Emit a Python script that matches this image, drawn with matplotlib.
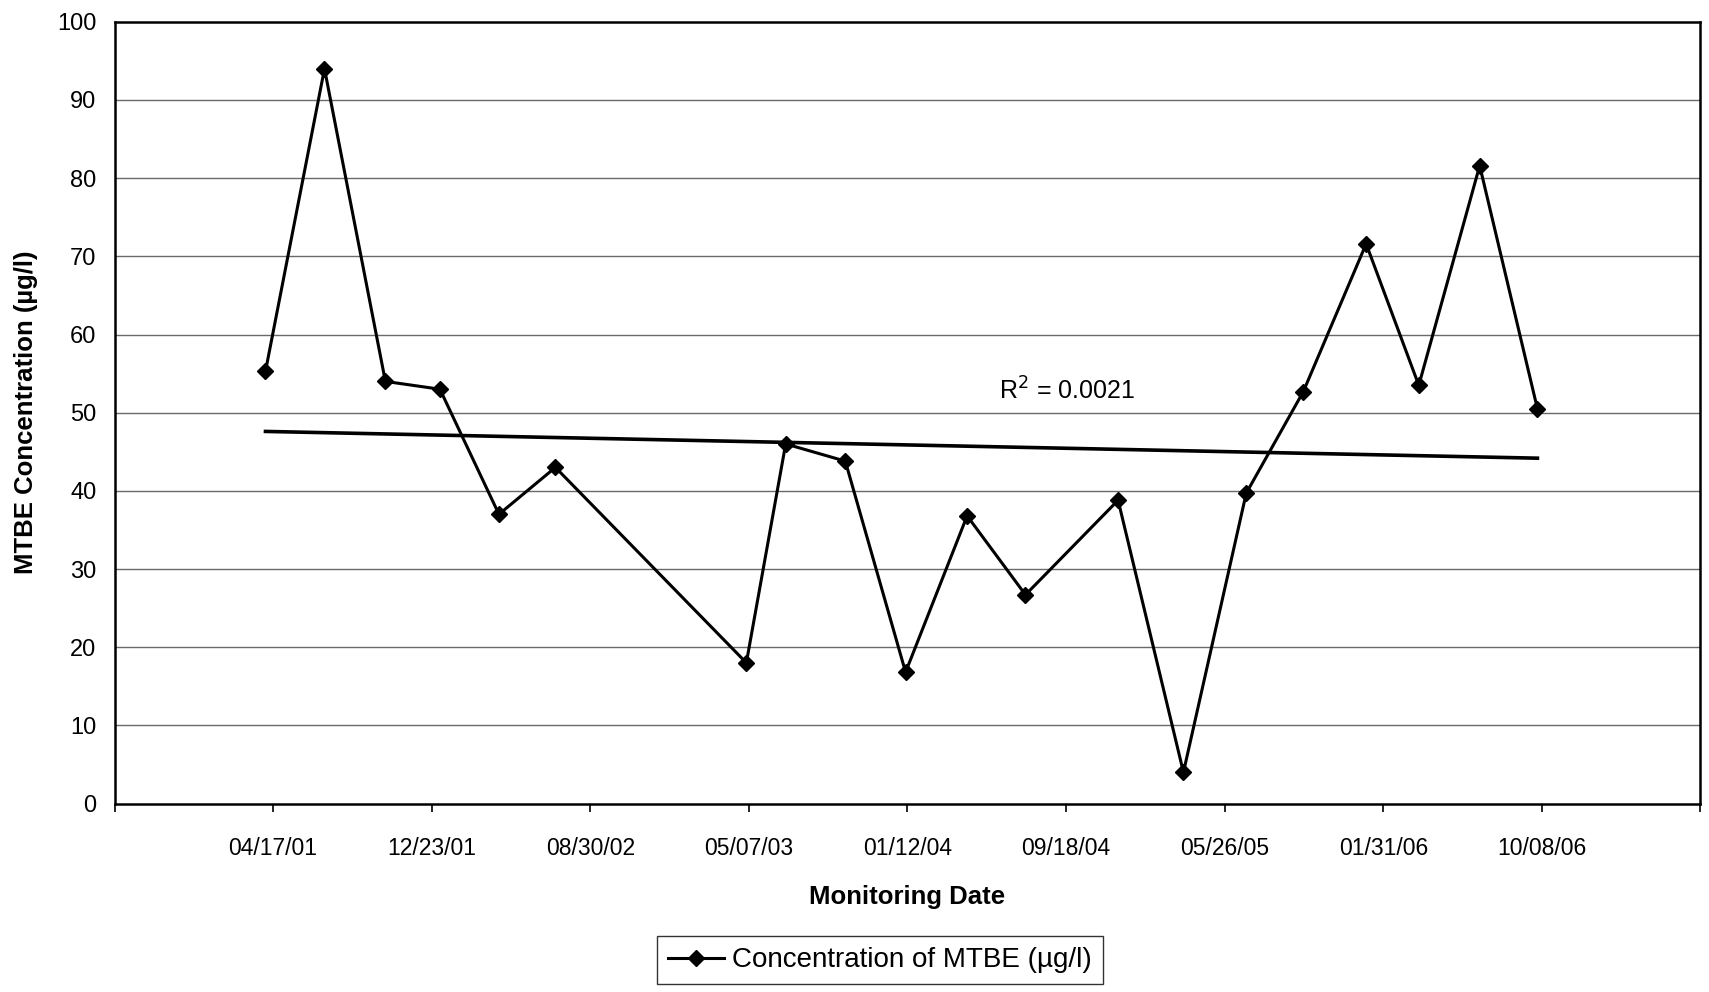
import matplotlib
matplotlib.use("Agg")
import matplotlib.pyplot as plt
import matplotlib.dates as mdates
import numpy as np
import pandas as pd

plt.rcParams['font.family'] = ['Liberation Sans', 'DejaVu Sans']

# monitoring dates and MTBE concentration (ug/l)
dates = ["2001-04-05", "2001-07-07", "2001-10-11", "2002-01-05", "2002-04-08",
         "2002-07-06", "2003-05-03", "2003-07-04", "2003-10-06", "2004-01-09",
         "2004-04-15", "2004-07-16", "2004-12-09", "2005-03-22", "2005-06-29",
         "2005-09-27", "2006-01-04", "2006-03-28", "2006-07-02", "2006-10-01"]
mtbe = [55.3, 94.0, 54.0, 53.0, 37.0,
        43.0, 18.0, 46.0, 43.8, 16.8,
        36.8, 26.7, 38.8, 4.0, 39.7,
        52.7, 71.6, 53.5, 81.6, 50.5]

tick_dates = ["2000-08-10", "2001-04-17", "2001-12-23", "2002-08-30", "2003-05-07",
              "2004-01-12", "2004-09-18", "2005-05-26", "2006-01-31", "2006-10-08",
              "2007-06-15"]
tick_labels = ["", "04/17/01", "12/23/01", "08/30/02", "05/07/03", "01/12/04",
               "09/18/04", "05/26/05", "01/31/06", "10/08/06", ""]

t = mdates.date2num(pd.to_datetime(dates))
ticks = mdates.date2num(pd.to_datetime(tick_dates))

fig = plt.figure(figsize=(17.09, 9.92), dpi=100)
ax = fig.add_axes([0.067, 0.19, 0.928, 0.788])

# horizontal gridlines
for v in range(10, 100, 10):
    ax.axhline(v, color='#6a6a6a', lw=1.0, zorder=0)

ax.plot(t, mtbe, color='black', lw=2.2, marker='D', markersize=8,
        label='Concentration of MTBE (µg/l)', zorder=3)

# linear trend line
k, b = np.polyfit(t, mtbe, 1)
xt = np.array([t[0], t[-1]])
ax.plot(xt, k * xt + b, color='black', lw=2.6, zorder=2)
ax.text(mdates.date2num(pd.Timestamp("2004-09-20")), 52.8, "R$^2$ = 0.0021",
        fontsize=18, ha='center', va='center')

ax.set_xlim(ticks[0], ticks[-1])
ax.set_ylim(0, 100)
ax.set_xticks(ticks)
ax.set_xticklabels(tick_labels, fontsize=16.5)
ax.set_yticks(range(0, 101, 10))
ax.tick_params(axis='y', labelsize=17, length=0, pad=13)
ax.tick_params(axis='x', length=6, width=1.2, pad=18)
for s in ax.spines.values():
    s.set_linewidth(1.8)

ax.set_xlabel('Monitoring Date', fontsize=18.5, fontweight='bold', labelpad=18)
ax.set_ylabel('MTBE Concentration (µg/l)', fontsize=18.5, fontweight='bold', labelpad=14)

fig.legend(loc='center', bbox_to_anchor=(0.515, 0.032), fontsize=20,
           frameon=True, fancybox=False, edgecolor='black', handlelength=2.0,
           handletextpad=0.3, borderpad=0.4)

fig.savefig('out.png', dpi=100)
